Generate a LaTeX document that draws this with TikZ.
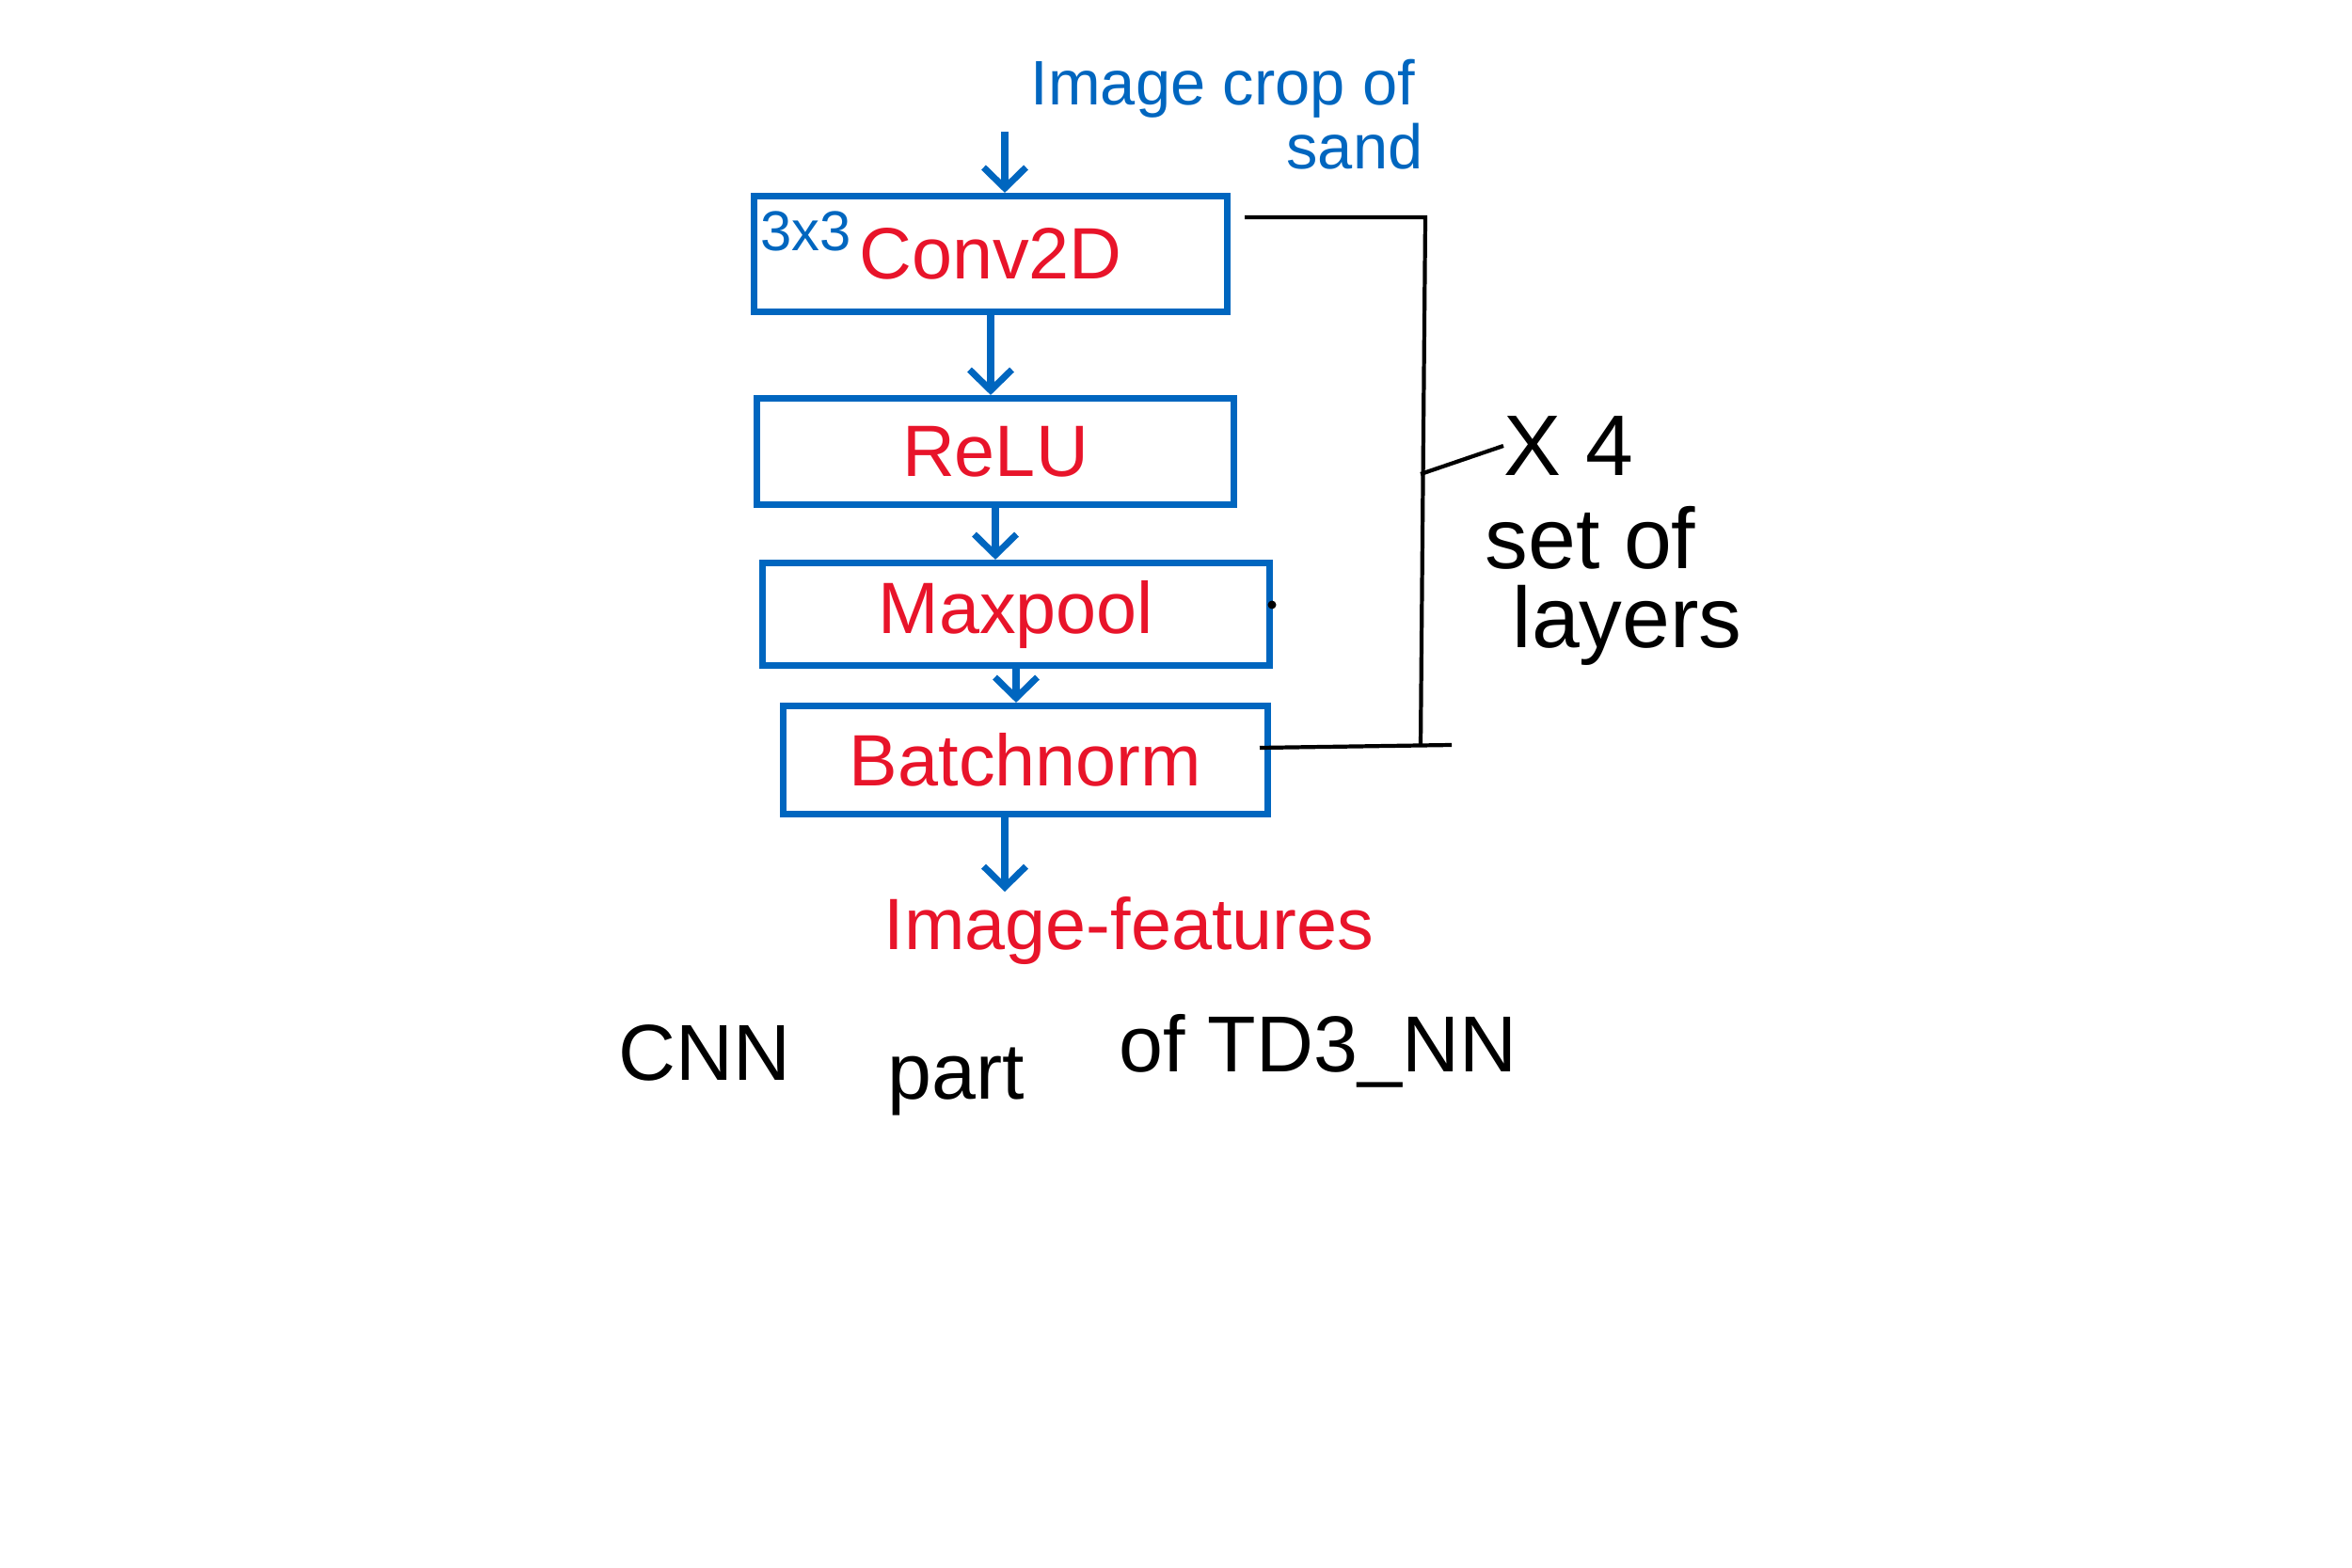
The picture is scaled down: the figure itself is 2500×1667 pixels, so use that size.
\documentclass[tikz,border=0pt]{standalone}
\usepackage{fontspec}
\setmainfont{Liberation Sans}
\usepackage{xcolor}
\usepackage{tikz}
\usetikzlibrary{positioning}
\usetikzlibrary{arrows.meta}
\definecolor{penblue}{HTML}{0066BF}
\definecolor{penred}{HTML}{E8142A}

\begin{document}
\begin{tikzpicture}[x = 0.01cm, y = -0.01cm,
                	    layer/.style = { rectangle, draw = penblue, line width = 2pt, inner sep = 0pt, text = penred, font = \fontsize{22}{24}\selectfont },
                		flow/.style = { draw = penblue, line width = 2pt, -{Straight Barb[length = 2.2mm, width = 4.5mm]} },
                		bracket/.style = { draw = black, line width = 1.2pt },
                		bluetext/.style = { inner sep = 0pt, text = penblue, font = \fontsize{19}{21}\selectfont },
                		redtext/.style = { inner sep = 0pt, text = penred, font = \fontsize{22}{24}\selectfont },
                		note/.style = { inner sep = 0pt, anchor = west, font = \fontsize{26}{28}\selectfont },
                		caption/.style = { inner sep = 0pt, font = \fontsize{24}{26}\selectfont },
            		]
            		    \useasboundingbox (0,0) rectangle (2500,1667);

            		    % input
            		    \node[bluetext, anchor = base] (input) at (1300,112) {Image crop of};
            		    \node[bluetext, anchor = base] (sand) at (1440,180) {sand};
            		    \coordinate (feed) at (1068,140);

            		    % layers
            		    \node[layer, minimum width = 5.02cm, minimum height = 1.23cm] (conv) at (1053,270) {Conv2D};
            		    \node[bluetext, anchor = north west, font = \fontsize{17}{19}\selectfont] (kernel) at (808,224) {3x3};
            		    \node[layer, minimum width = 5.07cm, minimum height = 1.13cm] (relu) at (1058,480) {ReLU};
            		    \node[layer, minimum width = 5.39cm, minimum height = 1.09cm] (maxpool) at (1080,653) {Maxpool};
            		    \node[layer, minimum width = 5.15cm, minimum height = 1.15cm] (batch) at (1090,808) {Batchnorm};
            		    \fill (1352,643) circle[radius = 0.045cm];

            		    % output
            		    \coordinate (outtip) at (1068,948);
            		    \node[redtext] (features) at (1200,990) {Image-features};

            		    \draw[flow] (feed) -- (feed |- conv.north);
            		    \draw[flow] (conv.south) -- (conv.south |- relu.north);
            		    \draw[flow] (relu.south) -- (relu.south |- maxpool.north);
            		    \draw[flow] (maxpool.south) -- (maxpool.south |- batch.north);
            		    \draw[flow] (outtip |- batch.south) -- (outtip);

            		    % repeat bracket
            		    \node[note] (times) at (1598,474) {X 4};
            		    \node[note] (setof) at (1578,572) {set of};
            		    \node[note] (layers) at (1607,665) {layers};
            		    \coordinate (bracktop) at (1515,231);
            		    \coordinate (brackbot) at (1510,793);
            		    \draw[bracket] (1323,231) -- (bracktop) -- (brackbot);
            		    \draw[bracket] (1339,795) -- (1543,792);
            		    \draw[bracket] (1510,504) -- (times.west);

            		    % caption
            		    \node[caption] (cnn) at (749,1119) {CNN};
            		    \node[caption] (part) at (1016,1150) {part};
            		    \node[caption] (ofnn) at (1401,1117) {of TD3\_NN};
            		\end{tikzpicture}
\end{document}
